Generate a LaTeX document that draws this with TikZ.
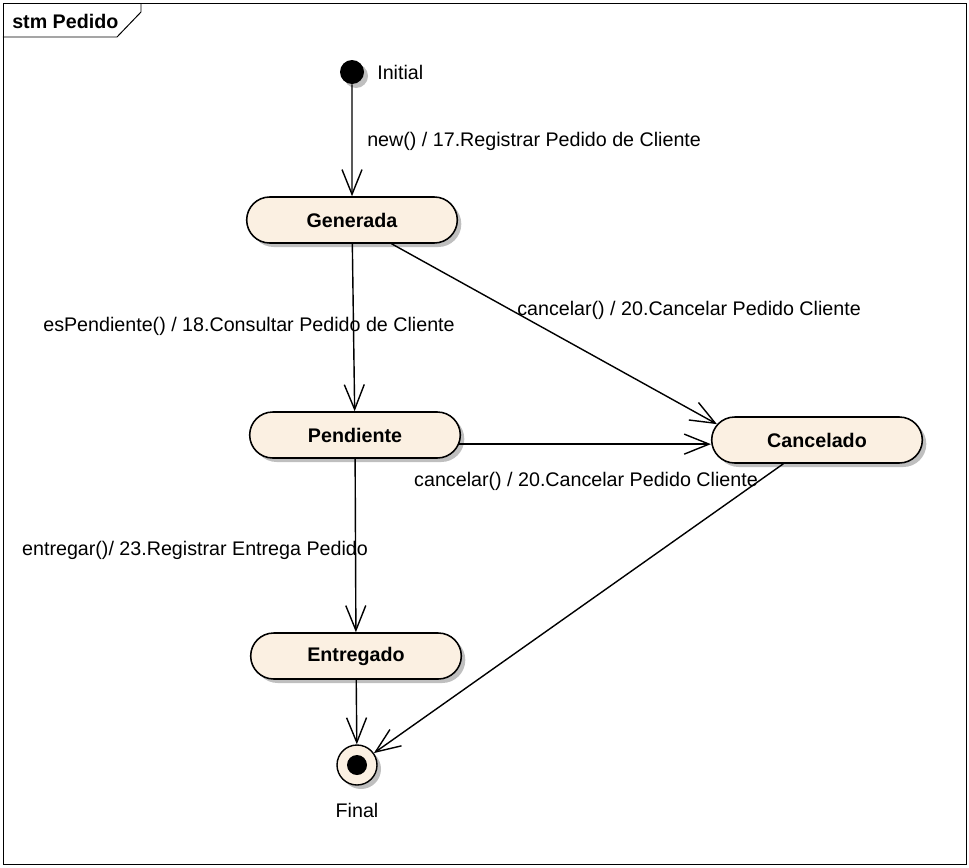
\documentclass[tikz,border=0pt]{standalone}
\usepackage{fontspec}
\setmainfont{Liberation Sans}
\usepackage{tikz}
\usetikzlibrary{shapes,shapes.misc,arrows,arrows.meta,shadows}
\definecolor{crema}{RGB}{251,240,226}
\tikzstyle{txt} = [font=\fontsize{14}{16}\selectfont, inner sep=0pt]
\tikzstyle{btxt} = [font=\fontsize{14}{16}\selectfont\bfseries, inner sep=0pt]
\tikzstyle{sombra} = [drop shadow={shadow xshift=0.1cm, shadow yshift=-0.1cm, fill=black!25, opacity=1}]
\tikzstyle{state} = [rounded rectangle, minimum width=5.5cm, minimum height=1.15cm, draw=black, line width=1.1pt, fill=crema, font=\fontsize{14}{16}\selectfont\bfseries, sombra]
\tikzstyle{trans} = [line width=1pt, -{Straight Barb[length=0.62cm, width=0.5cm]}]

\begin{document}
\begin{tikzpicture}
        \useasboundingbox (0,0) rectangle (24.225,-21.675);
        
        \draw[line width=0.7pt] (0.075,-0.075) rectangle (24.15,-21.6);
        \draw[line width=0.7pt] (0.075,-0.925) -- (2.925,-0.925) -- (3.525,-0.3) -- (3.525,-0.075);
        \node (STM) [btxt, anchor=west, xshift=0.3cm, yshift=-0.525cm] {stm Pedido};
        
        \node (I) [circle, fill=black, minimum size=0.6cm, inner sep=0pt, xshift=8.8cm, yshift=-1.8cm, sombra] {};
        \node (LI) [txt, anchor=west, xshift=9.425cm, yshift=-1.8cm] {Initial};
        
        \node (G) [state, xshift=8.8cm, yshift=-5.5cm] {Generada};
        \node (P) [state, xshift=8.875cm, yshift=-10.875cm] {Pendiente};
        \node (C) [state, xshift=20.425cm, yshift=-11cm] {Cancelado};
        \node (E) [state, xshift=8.9cm, yshift=-16.4cm] {Entregado};
        
        \node (F) [circle, draw=black, line width=1pt, fill=crema, minimum size=1cm, inner sep=0pt, xshift=8.925cm, yshift=-19.125cm, sombra] {};
        \node (FC) [circle, fill=black, minimum size=0.5cm, inner sep=0pt, xshift=8.925cm, yshift=-19.125cm] {};
        \node (LF) [txt, xshift=8.925cm, yshift=-20.25cm] {Final};
        
        \draw[trans] (I) -- (G);
        \draw[trans] (G) -- (P);
        \draw[trans] (G.-31) -- (C.171);
        \draw[trans] (P.-5) -- (P.-5 -| C.west);
        \draw[trans] (P) -- (E);
        \draw[trans] (C) -- (F);
        \draw[trans] (E) -- (F);
        
        \node (NRP) [txt, anchor=west, xshift=9.175cm, yshift=-3.525cm] {new() / 17.Registrar Pedido de Cliente};
        \node (ECP) [txt, xshift=6.225cm, yshift=-8.15cm] {esPendiente() / 18.Consultar Pedido de Cliente};
        \node (CPC1) [txt, anchor=west, xshift=12.925cm, yshift=-7.75cm] {cancelar() / 20.Cancelar Pedido Cliente};
        \node (CPC2) [txt, xshift=14.65cm, yshift=-12.025cm] {cancelar() / 20.Cancelar Pedido Cliente};
        \node (ERE) [txt, xshift=4.875cm, yshift=-13.75cm] {entregar()/ 23.Registrar Entrega Pedido};
        
    \end{tikzpicture}
\end{document}
